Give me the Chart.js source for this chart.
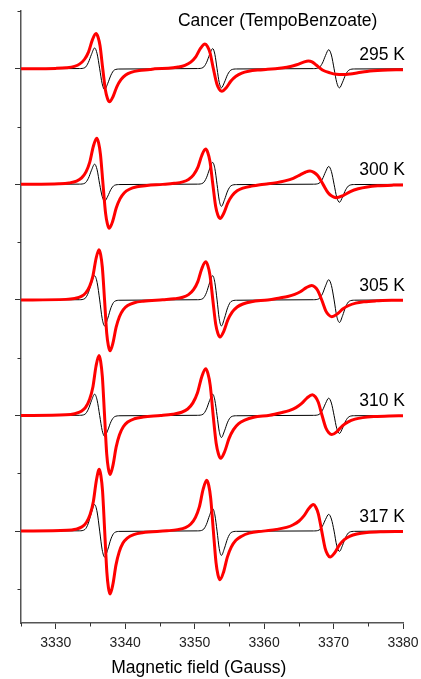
<!DOCTYPE html>
<html>
<head>
<meta charset="utf-8">
<script src="https://cdn.jsdelivr.net/npm/chart.js@4.4.0/dist/chart.umd.min.js"></script>
<style>
  body { margin: 0; background: #fff; }
  canvas { display: block; }
</style>
</head>
<body>
<canvas id="epr" width="421" height="679"></canvas>
<script>
// spectra stacked from top to bottom, one baseline every 2 units
var temps = ['295 K', '300 K', '305 K', '310 K', '317 K'];
var offsets = [0, -2, -4, -6, -8];

var xTicks = [3325, 3330, 3335, 3340, 3345, 3350, 3355, 3360, 3365, 3370, 3375, 3380];
var yTicks = [1, 0, -1, -2, -3, -4, -5, -6, -7, -8, -9];

// simulated spectra (black), same field points for every temperature
var fieldBlack = [3325, 3333.4, 3334.2, 3334.7, 3335.15, 3335.6, 3335.96, 3336.33, 3336.69, 3337.05, 3337.5, 3337.95, 3338.45, 3339.25,
  3350.4, 3351.2, 3351.7, 3352.15, 3352.6, 3352.91, 3353.23, 3353.54, 3353.85, 3354.3, 3354.75, 3355.25, 3356.05,
  3367.1, 3367.9, 3368.4, 3368.85, 3369.3, 3369.69, 3370.08, 3370.46, 3370.85, 3371.3, 3371.75, 3372.25, 3373.05, 3380];
var black295 = [0, 0.004, 0.02, 0.11, 0.25, 0.36, 0.26, 0, -0.26, -0.36, -0.25, -0.11, -0.02, -0.004,
  0.004, 0.021, 0.105, 0.245, 0.35, 0.252, 0, -0.238, -0.33, -0.231, -0.099, -0.02, -0.003,
  0.003, 0.02, 0.099, 0.231, 0.33, 0.238, 0, -0.238, -0.33, -0.231, -0.099, -0.02, -0.003, 0];
var black300 = [0, 0.004, 0.021, 0.105, 0.245, 0.35, 0.252, 0, -0.209, -0.29, -0.203, -0.087, -0.017, -0.003,
  0.004, 0.023, 0.114, 0.266, 0.38, 0.274, 0, -0.274, -0.38, -0.266, -0.114, -0.023, -0.004,
  0.003, 0.019, 0.093, 0.217, 0.31, 0.223, 0, -0.223, -0.31, -0.217, -0.093, -0.019, -0.003, 0];
var black305 = [0, 0.004, 0.025, 0.126, 0.294, 0.42, 0.302, 0, -0.324, -0.45, -0.315, -0.135, -0.027, -0.005,
  0.004, 0.025, 0.126, 0.294, 0.42, 0.302, 0, -0.324, -0.45, -0.315, -0.135, -0.027, -0.005,
  0.004, 0.021, 0.105, 0.245, 0.35, 0.252, 0, -0.281, -0.39, -0.273, -0.117, -0.023, -0.004, 0];
var black310 = [0, 0.004, 0.022, 0.111, 0.259, 0.37, 0.266, 0, -0.259, -0.36, -0.252, -0.108, -0.022, -0.004,
  0.004, 0.022, 0.111, 0.259, 0.37, 0.266, 0, -0.274, -0.38, -0.266, -0.114, -0.023, -0.004,
  0.003, 0.018, 0.09, 0.21, 0.3, 0.216, 0, -0.223, -0.31, -0.217, -0.093, -0.019, -0.003, 0];
var black317 = [0, 0.005, 0.028, 0.138, 0.322, 0.46, 0.331, 0, -0.324, -0.45, -0.315, -0.135, -0.027, -0.005,
  0.004, 0.023, 0.117, 0.273, 0.39, 0.281, 0, -0.302, -0.42, -0.294, -0.126, -0.025, -0.004,
  0.003, 0.017, 0.087, 0.203, 0.29, 0.209, 0, -0.252, -0.35, -0.245, -0.105, -0.021, -0.004, 0];

var field295 = [3325,
  3329.98, 3331.53, 3332.7, 3333.47, 3334.15, 3334.73, 3335.28, 3335.8, 3336.09, 3336.38, 3336.77, 3337.16, 3337.45, 3337.74, 3338.26, 3338.81, 3339.39, 3340.07, 3340.84, 3342.01, 3343.56,
  3344.26, 3346.19, 3347.63, 3348.6, 3349.44, 3350.16, 3350.84, 3351.49, 3351.85, 3352.21, 3352.7, 3353.18, 3353.54, 3353.9, 3354.55, 3355.23, 3355.95, 3356.79, 3357.76, 3359.2,
  3360.5, 3362.5, 3363.8, 3364.7, 3365.6, 3366.37, 3366.9, 3367.5, 3368.4, 3369.5, 3370.4, 3371.37, 3372.4, 3373.5, 3374.8, 3377, 3380];
var red295 = [0,
  0.007, 0.018, 0.043, 0.085, 0.165, 0.293, 0.5, 0.61, 0.549, 0.397, 0, -0.371, -0.513, -0.57, -0.479, -0.308, -0.188, -0.108, -0.063, -0.031, -0.014,
  0, 0.008, 0.03, 0.06, 0.116, 0.206, 0.353, 0.43, 0.387, 0.28, 0, -0.254, -0.351, -0.39, -0.328, -0.211, -0.129, -0.074, -0.043, -0.021,
  -0.01, 0.015, 0.04, 0.07, 0.11, 0.135, 0.12, 0.065, -0.02, -0.07, -0.095, -0.1, -0.09, -0.07, -0.046, -0.026, -0.015];

var field300 = [3325,
  3330.47, 3331.92, 3333, 3333.73, 3334.36, 3334.9, 3335.41, 3335.9, 3336.17, 3336.44, 3336.81, 3337.17, 3337.44, 3337.71, 3338.2, 3338.71, 3339.25, 3339.88, 3340.61, 3341.69, 3343.14,
  3345.41, 3347.06, 3348.29, 3349.12, 3349.84, 3350.46, 3351.03, 3351.59, 3351.9, 3352.21, 3352.62, 3353.03, 3353.34, 3353.65, 3354.21, 3354.78, 3355.4, 3356.12, 3356.95, 3358.18,
  3359.4, 3360.6, 3361.8, 3363, 3364.2, 3365.2, 3365.95, 3366.61, 3367.17, 3367.74, 3368.49, 3369.24, 3369.8, 3370.36, 3371.37, 3372.42, 3373.55, 3374.86, 3376.36, 3378.6, 3380];
var red300 = [0,
  0.01, 0.024, 0.056, 0.112, 0.216, 0.384, 0.656, 0.8, 0.72, 0.52, 0, -0.494, -0.684, -0.76, -0.638, -0.41, -0.251, -0.144, -0.084, -0.042, -0.019,
  0, 0.018, 0.043, 0.085, 0.165, 0.293, 0.5, 0.61, 0.549, 0.397, 0, -0.384, -0.531, -0.59, -0.496, -0.319, -0.195, -0.112, -0.065, -0.03,
  -0.005, 0.01, 0.03, 0.06, 0.105, 0.165, 0.21, 0.23, 0.207, 0.15, 0, -0.15, -0.207, -0.23, -0.193, -0.124, -0.076, -0.044, -0.025, -0.013, -0.01];

var field305 = [3325,
  3331.46, 3332.73, 3333.69, 3334.32, 3334.88, 3335.36, 3335.8, 3336.23, 3336.47, 3336.71, 3337.03, 3337.34, 3337.58, 3337.82, 3338.25, 3338.69, 3339.17, 3339.73, 3340.36, 3341.32, 3342.59,
  3345.41, 3347.06, 3348.29, 3349.12, 3349.84, 3350.46, 3351.03, 3351.59, 3351.9, 3352.21, 3352.62, 3353.03, 3353.34, 3353.65, 3354.21, 3354.78, 3355.4, 3356.12, 3356.95, 3358.18,
  3360.52, 3362.25, 3363.4, 3364.41, 3365.28, 3366.08, 3366.86, 3367.29, 3367.72, 3368.3, 3368.88, 3369.31, 3369.74, 3370.52, 3371.32, 3372.19, 3373.2, 3374.35, 3376.08, 3378.38, 3380];
var red305 = [0,
  0.01, 0.026, 0.061, 0.122, 0.235, 0.418, 0.713, 0.87, 0.783, 0.566, 0, -0.572, -0.792, -0.88, -0.739, -0.475, -0.29, -0.167, -0.097, -0.048, -0.022,
  0.004, 0.02, 0.046, 0.092, 0.178, 0.317, 0.541, 0.66, 0.594, 0.429, 0, -0.416, -0.576, -0.64, -0.538, -0.346, -0.211, -0.122, -0.07, -0.03,
  0, 0.035, 0.06, 0.095, 0.145, 0.213, 0.25, 0.225, 0.163, 0, -0.189, -0.261, -0.29, -0.244, -0.157, -0.096, -0.055, -0.032, -0.016, -0.007, -0.005];

var field310 = [3325,
  3331.46, 3332.73, 3333.69, 3334.32, 3334.88, 3335.36, 3335.8, 3336.23, 3336.47, 3336.71, 3337.03, 3337.34, 3337.58, 3337.82, 3338.25, 3338.69, 3339.17, 3339.73, 3340.36, 3341.32, 3342.59,
  3345.11, 3346.84, 3348.13, 3349, 3349.75, 3350.4, 3351.01, 3351.59, 3351.91, 3352.24, 3352.67, 3353.1, 3353.43, 3353.75, 3354.33, 3354.94, 3355.59, 3356.34, 3357.21, 3358.5,
  3360.81, 3362.49, 3363.6, 3364.58, 3365.42, 3366.2, 3366.95, 3367.37, 3367.79, 3368.35, 3368.9, 3369.32, 3369.74, 3370.49, 3371.27, 3372.11, 3373.09, 3374.2, 3375.88, 3378.11, 3380];
var red310 = [0,
  0.012, 0.031, 0.073, 0.146, 0.281, 0.499, 0.853, 1.04, 0.936, 0.676, 0, -0.663, -0.918, -1.02, -0.857, -0.551, -0.337, -0.194, -0.112, -0.056, -0.026,
  0, 0.024, 0.057, 0.113, 0.219, 0.389, 0.664, 0.81, 0.729, 0.527, 0, -0.481, -0.666, -0.74, -0.622, -0.4, -0.244, -0.141, -0.081, -0.03,
  0.005, 0.05, 0.086, 0.137, 0.209, 0.306, 0.36, 0.324, 0.234, 0, -0.215, -0.297, -0.33, -0.277, -0.178, -0.109, -0.063, -0.036, -0.018, -0.008, -0.005];

var field317 = [3325,
  3331.62, 3332.86, 3333.79, 3334.41, 3334.95, 3335.42, 3335.85, 3336.27, 3336.5, 3336.74, 3337.05, 3337.36, 3337.59, 3337.82, 3338.24, 3338.67, 3339.14, 3339.68, 3340.3, 3341.23, 3342.47,
  3346.01, 3347.54, 3348.68, 3349.45, 3350.12, 3350.69, 3351.22, 3351.74, 3352.03, 3352.31, 3352.7, 3353.08, 3353.36, 3353.65, 3354.17, 3354.7, 3355.27, 3355.94, 3356.71, 3357.85,
  3359.86, 3361.79, 3363.23, 3364.2, 3365.04, 3365.76, 3366.44, 3367.09, 3367.45, 3367.81, 3368.3, 3368.78, 3369.14, 3369.5, 3370.15, 3370.83, 3371.55, 3372.39, 3373.36, 3374.8, 3376.73, 3380];
var red317 = [0,
  0.013, 0.032, 0.075, 0.15, 0.289, 0.514, 0.877, 1.07, 0.963, 0.696, 0, -0.709, -0.981, -1.09, -0.916, -0.589, -0.36, -0.207, -0.12, -0.06, -0.027,
  0.005, 0.026, 0.062, 0.123, 0.238, 0.422, 0.722, 0.88, 0.792, 0.572, 0, -0.546, -0.756, -0.84, -0.706, -0.454, -0.277, -0.16, -0.092, -0.035,
  0, 0.03, 0.064, 0.11, 0.175, 0.267, 0.391, 0.46, 0.414, 0.299, 0, -0.293, -0.405, -0.45, -0.378, -0.243, -0.149, -0.086, -0.05, -0.025, -0.011, -0.005];

var blackSets = [black295, black300, black305, black310, black317];
var redFields = [field295, field300, field305, field310, field317];
var redSets = [red295, red300, red305, red310, red317];

var FONT = '"Liberation Sans", Arial, sans-serif';

function stack(field, vals, off) {
    if (field.length !== vals.length) throw new Error('length mismatch ' + field.length + ' / ' + vals.length);
    return field.map(function(f, k) { return { x: f, y: vals[k] + off }; });
}

var datasets = [];
// red first so it is painted over the black traces
for (var i = 0; i < temps.length; i++) {
    datasets.push({
        label: temps[i] + ' exp',
        data: stack(redFields[i], redSets[i], offsets[i]),
        borderColor: '#ff0000',
        borderWidth: 3
    });
}
for (var i = 0; i < temps.length; i++) {
    datasets.push({
        label: temps[i] + ' sim',
        data: stack(fieldBlack, blackSets[i], offsets[i]),
        borderColor: '#000000',
        borderWidth: 1
    });
}

// short ticks between the labelled ones, and the free texts
var extras = {
    id: 'extras',
    afterDraw: function(chart) {
        var ctx = chart.ctx;
        var area = chart.chartArea;
        var sx = chart.scales.x, sy = chart.scales.y;
        ctx.save();
        ctx.strokeStyle = '#333';
        ctx.lineWidth = 1;
        xTicks.forEach(function(v) {
            if (v % 10 === 0) return;
            var px = Math.round(sx.getPixelForValue(v)) + 0.5;
            ctx.beginPath();
            ctx.moveTo(px, area.bottom);
            ctx.lineTo(px, area.bottom + 3.5);
            ctx.stroke();
        });
        yTicks.forEach(function(v) {
            if (v % 2 === 0) return;
            var py = Math.round(sy.getPixelForValue(v)) + 0.5;
            ctx.beginPath();
            ctx.moveTo(area.left - 3.5, py);
            ctx.lineTo(area.left, py);
            ctx.stroke();
        });

        ctx.fillStyle = '#000';
        ctx.font = '17.5px ' + FONT;
        ctx.textBaseline = 'alphabetic';
        ctx.textAlign = 'left';
        ctx.fillText('Cancer (TempoBenzoate)', sx.getPixelForValue(3347.6), sy.getPixelForValue(0.745));
        for (var i = 0; i < temps.length; i++) {
            ctx.fillText(temps[i], sx.getPixelForValue(3373.7), sy.getPixelForValue(offsets[i] + 0.16));
        }
        ctx.textAlign = 'center';
        ctx.fillText('Magnetic field (Gauss)', sx.getPixelForValue(3350.6), chart.height - 6);
        ctx.restore();
    }
};

new Chart(document.getElementById('epr').getContext('2d'), {
    type: 'line',
    data: { datasets: datasets },
    options: {
        responsive: false,
        animation: false,
        devicePixelRatio: 1,
        layout: { padding: { top: 11, right: 18, left: 0, bottom: 0 } },
        plugins: { legend: { display: false }, tooltip: { enabled: false } },
        elements: {
            point: { radius: 0 },
            line: { cubicInterpolationMode: 'monotone', fill: false }
        },
        scales: {
            x: {
                type: 'linear',
                min: 3325,
                max: 3380,
                afterBuildTicks: function(s) { s.ticks = xTicks.map(function(v) { return { value: v }; }); },
                afterFit: function(s) {
                    s.height = 56;
                    s.paddingLeft = 0;
                    s.paddingRight = 0;
                },
                border: { color: '#555', width: 1.5 },
                grid: {
                    drawOnChartArea: false,
                    tickLength: 6,
                    tickWidth: 1,
                    tickColor: function(c) { return (c.tick && c.tick.value % 10 === 0) ? '#333' : 'rgba(0,0,0,0)'; }
                },
                ticks: {
                    autoSkip: false,
                    maxRotation: 0,
                    padding: 6,
                    color: '#222',
                    font: { family: FONT, size: 14 },
                    callback: function(v) { return v % 10 === 0 ? String(v) : ''; }
                }
            },
            y: {
                type: 'linear',
                min: -9.59,
                max: 1,
                afterBuildTicks: function(s) { s.ticks = yTicks.map(function(v) { return { value: v }; }); },
                afterFit: function(s) {
                    s.width = 21;
                    s.paddingTop = 0;
                    s.paddingBottom = 0;
                },
                border: { color: '#555', width: 1.5 },
                grid: {
                    drawOnChartArea: false,
                    tickLength: 6,
                    tickWidth: 1,
                    tickColor: function(c) { return (c.tick && c.tick.value % 2 === 0) ? '#333' : 'rgba(0,0,0,0)'; }
                },
                ticks: { display: false }
            }
        }
    },
    plugins: [extras]
});
</script>
</body>
</html>
